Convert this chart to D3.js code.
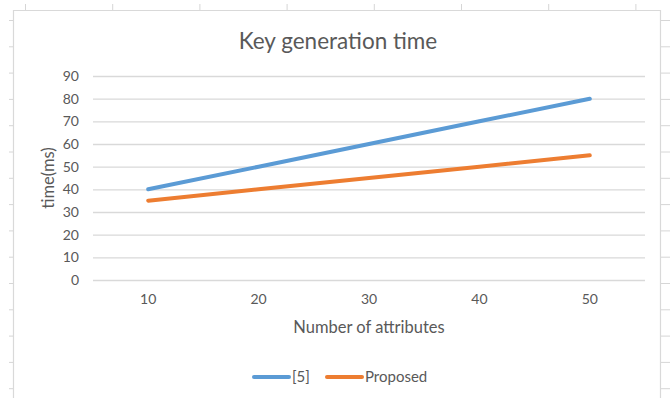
<!DOCTYPE html>
<html>
<head>
<meta charset="utf-8">
<script src="https://cdn.jsdelivr.net/npm/d3@7/dist/d3.min.js"></script>
<style>
  html, body { margin: 0; padding: 0; background: #ffffff; }
  svg { display: block; font-family: Lato, "Open Sans", sans-serif; }
</style>
</head>
<body>
<svg id="chart" width="670" height="398"></svg>
<script>
// Data
const attributes = [10, 20, 30, 40, 50];
const ref5 = [40, 50, 60, 70, 80];
const proposed = [35, 40, 45, 50, 55];
const yTicks = [0, 10, 20, 30, 40, 50, 60, 70, 80, 90];
const seriesNames = ["[5]", "Proposed"];
const seriesColors = ["#5b9bd5", "#ed7d31"];

const svg = d3.select("#chart");
const W = 670, H = 398;
const textColor = "#595959";
const gridColor = "#d9d9d9";

// Spreadsheet cells peeking out around the chart frame
const sheet = svg.append("g").attr("stroke", "#d6d6d6").attr("stroke-width", 1);
for (let x = 25.5; x < W; x += 87.2) {
  sheet.append("line").attr("x1", x).attr("x2", x).attr("y1", 4).attr("y2", 10);
}
for (let y = 20.5; y < H; y += 26.3) {
  sheet.append("line").attr("x1", 9).attr("x2", 13).attr("y1", y).attr("y2", y);
  sheet.append("line").attr("x1", 661).attr("x2", W).attr("y1", y).attr("y2", y);
}

// Chart frame
svg.append("path")
  .attr("d", `M13.5,${H} V10.5 H660.5 V${H}`)
  .attr("fill", "#ffffff")
  .attr("stroke", gridColor)
  .attr("stroke-width", 1.2);

// Scales
const x = d3.scaleBand().domain(attributes).range([93, 645]);
const y = d3.scaleLinear().domain([0, 90]).range([280, 76]);
const cx = d => x(d) + x.bandwidth() / 2;

// Title
svg.append("text")
  .attr("x", 338).attr("y", 49)
  .attr("text-anchor", "middle")
  .attr("fill", textColor)
  .attr("font-size", 22.5)
  .text("Key generation time");

// Horizontal gridlines + y labels
const yAxis = d3.axisLeft(y).tickValues(yTicks).tickSize(-(645 - 93)).tickPadding(14);
const gy = svg.append("g").attr("transform", "translate(93,0)").call(yAxis);
gy.select(".domain").remove();
gy.selectAll(".tick line").attr("stroke", gridColor).attr("stroke-width", 1.3);
gy.selectAll(".tick text")
  .attr("fill", textColor)
  .attr("font-size", 14)
  .attr("font-family", "Lato, sans-serif");

// x labels
const xAxis = d3.axisBottom(x).tickSize(0).tickPadding(14);
const gx = svg.append("g").attr("transform", "translate(0,280)").call(xAxis);
gx.select(".domain").remove();
gx.selectAll(".tick text")
  .attr("fill", textColor)
  .attr("font-size", 14)
  .attr("font-family", "Lato, sans-serif");

// Axis titles
svg.append("text")
  .attr("x", 369).attr("y", 333)
  .attr("text-anchor", "middle")
  .attr("fill", textColor)
  .attr("font-size", 16.5)
  .text("Number of attributes");

svg.append("text")
  .attr("transform", "translate(54,178) rotate(-90)")
  .attr("text-anchor", "middle")
  .attr("fill", textColor)
  .attr("font-size", 16.5)
  .text("time(ms)");

// Series lines
const line = d3.line().x((d, i) => cx(attributes[i])).y(d => y(d));
[ref5, proposed].forEach((vals, i) => {
  svg.append("path")
    .datum(vals)
    .attr("d", line)
    .attr("fill", "none")
    .attr("stroke", seriesColors[i])
    .attr("stroke-width", 4)
    .attr("stroke-linecap", "round");
});

// Legend
const legendItems = [{x0: 254, x1: 289, tx: 292}, {x0: 327, x1: 362, tx: 365}];
legendItems.forEach((it, i) => {
  svg.append("line")
    .attr("x1", it.x0).attr("x2", it.x1)
    .attr("y1", 377).attr("y2", 377)
    .attr("stroke", seriesColors[i])
    .attr("stroke-width", 4)
    .attr("stroke-linecap", "round");
  svg.append("text")
    .attr("x", it.tx).attr("y", 382)
    .attr("fill", textColor)
    .attr("font-size", 15)
    .text(seriesNames[i]);
});
</script>
</body>
</html>
